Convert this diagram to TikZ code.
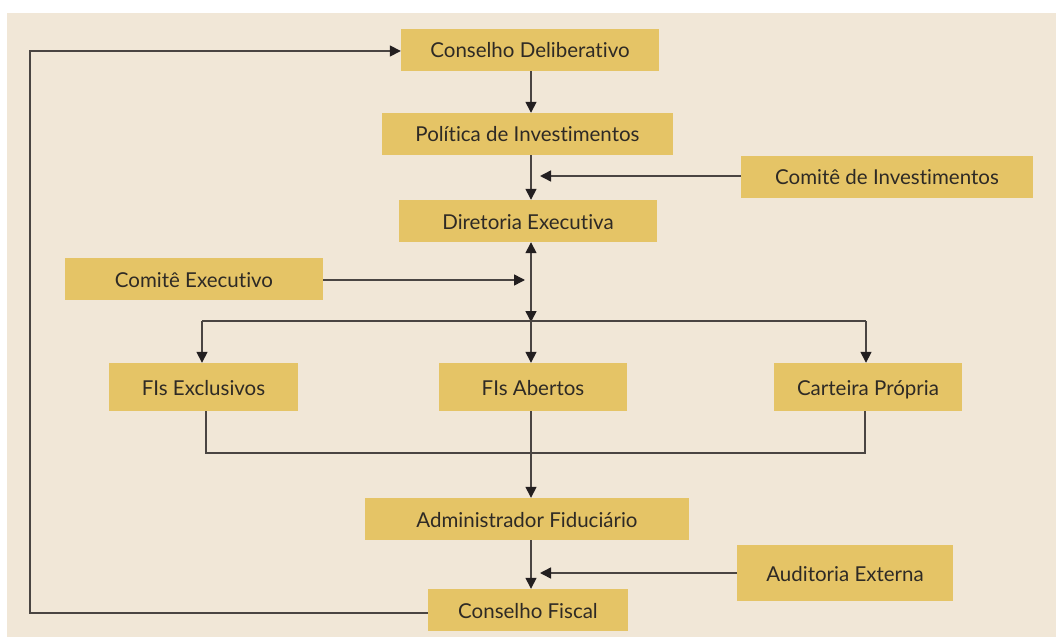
\documentclass[tikz,border=0pt]{standalone}
\usepackage{fontspec}
\setmainfont{Lato}[Ligatures={NoCommon}]
\usetikzlibrary{arrows.meta}
\definecolor{bgc}{HTML}{F1E7D7}
\definecolor{boxc}{HTML}{E5C466}
\definecolor{txtc}{HTML}{2E2A25}
\definecolor{linec}{HTML}{4A4542}
\definecolor{tipc}{HTML}{231F20}
\tikzset{
  box/.style={rectangle, fill=boxc, draw=none, text=txtc, inner sep=0pt,
    font=\fontsize{20.5}{22}\selectfont, text height=18pt, text depth=2pt},
  conn/.style={draw=linec, line width=1.5pt},
  arr/.style={conn, -{Triangle[width=11pt,length=11pt,color=tipc]}},
  darr/.style={conn, {Triangle[width=11pt,length=11pt,color=tipc]}-{Triangle[width=11pt,length=11pt,color=tipc]}},
}
\begin{document}
\begin{tikzpicture}[x=1pt,y=-1pt]
\useasboundingbox (0,0) rectangle (1056,639);
\fill[white] (0,0) rectangle (1056,639);
\fill[bgc] (7,13) rectangle (1056,637);
% nodes
\node[box, minimum width=258pt, minimum height=42pt] (cd) at (530,50) {Conselho Deliberativo};
\node[box, minimum width=291pt, minimum height=42pt] (pi) at (527.5,134) {Política de Investimentos};
\node[box, minimum width=292pt, minimum height=42pt] (ci) at (887,177) {Comitê de Investimentos};
\node[box, minimum width=258pt, minimum height=42pt] (de) at (528,221) {Diretoria Executiva};
\node[box, minimum width=258pt, minimum height=42pt] (ce) at (194,279) {Comitê Executivo};
\node[box, minimum width=189pt, minimum height=48pt] (fe) at (203.5,387) {FIs Exclusivos};
\node[box, minimum width=188pt, minimum height=48pt] (fa) at (533,387) {FIs Abertos};
\node[box, minimum width=188pt, minimum height=48pt] (cp) at (868,387) {Carteira Própria};
\node[box, minimum width=324pt, minimum height=42pt] (af) at (527,519) {Administrador Fiduciário};
\node[box, minimum width=216pt, minimum height=56pt] (au) at (845,573) {Auditoria Externa};
\node[box, minimum width=200pt, minimum height=42pt] (cf) at (528,610) {Conselho Fiscal};
% helper coordinates
\coordinate (spine) at (531,0);
\coordinate (fex) at (202,0);
\coordinate (cpx) at (866,0);
\coordinate (fexb) at (206,0);
\coordinate (cpxb) at (865,0);
\coordinate (loopx) at (30,0);
\coordinate (split) at (531,321);
\coordinate (merge) at (531,453);
\coordinate (ciend) at (540,176);
\coordinate (ceend) at (525,280);
\coordinate (auend) at (540,573);
% connectors
\draw[arr] (cd.south -| spine) -- (pi.north -| spine);
\draw[arr] (pi.south -| spine) -- (de.north -| spine);
\draw[arr] (ci.west |- ciend) -- (ciend);
\draw[arr] (ce.east |- ceend) -- (ceend);
\draw[darr] (de.south -| spine) -- ([yshift=-1pt]split);
\draw[conn] (split -| fex) -- (split -| cpx);
\draw[arr] (split -| fex) -- (fe.north -| fex);
\draw[arr] (split) -- (fa.north -| spine);
\draw[arr] (split -| cpx) -- (cp.north -| cpx);
\draw[conn] (fe.south -| fexb) -- (merge -| fexb) -- (merge -| cpxb) -- (cp.south -| cpxb);
\draw[arr] (fa.south -| spine) -- (af.north -| spine);
\draw[arr] (af.south -| spine) -- (cf.north -| spine);
\draw[arr] (au.west |- auend) -- (auend);
\draw[arr] ([yshift=-3pt]cf.west) -- ([yshift=-3pt]cf.west -| loopx) -- ([yshift=-1pt]cd.west -| loopx) -- ([yshift=-1pt]cd.west);
\end{tikzpicture}
\end{document}
